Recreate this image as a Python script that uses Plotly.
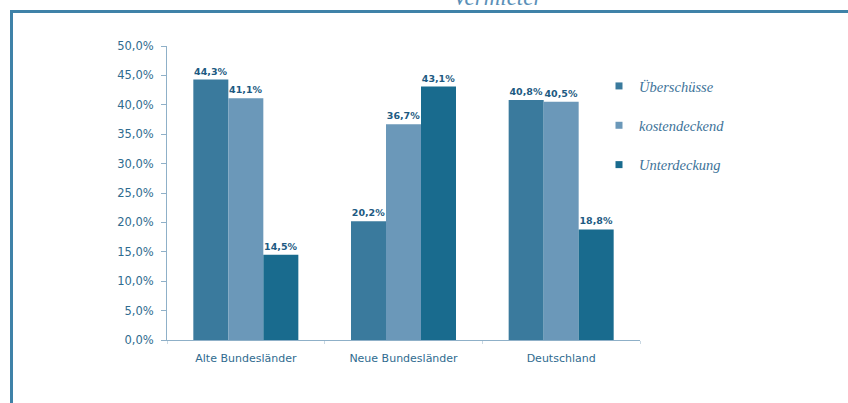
import plotly.graph_objects as go

categories = ["Alte Bundesländer", "Neue Bundesländer", "Deutschland"]
series_names = ["Überschüsse", "kostendeckend", "Unterdeckung"]
ueberschuesse = [44.3, 20.2, 40.8]
kostendeckend = [41.1, 36.7, 40.5]
unterdeckung = [14.5, 43.1, 18.8]
series_values = [ueberschuesse, kostendeckend, unterdeckung]
colors = ["#3a7a9d", "#6b98b9", "#196b8e"]
y_ticks = [0, 5, 10, 15, 20, 25, 30, 35, 40, 45, 50]
y_ticktext = [f"{v:.1f}%".replace(".", ",") for v in y_ticks]
title_text = "Vermieter"

W, H = 848, 403
L, R, T, B = 167, 640, 46, 340  # plot area pixel box

def px(x):
    return (x - L) / (R - L)

def py(y):
    return (B - y) / (B - T)

fig = go.Figure()
for name, vals, col in zip(series_names, series_values, colors):
    fig.add_trace(go.Bar(
        x=categories, y=vals, name=name, showlegend=False,
        marker=dict(color=col, line=dict(width=0)),
        texttemplate="%{y:.1f}%", textposition="outside",
        textfont=dict(family="DejaVu Sans", size=9.5, color="#1d5a82", weight="bold"),
        cliponaxis=False,
    ))
# legend entries with small square markers
for i, (name, col) in enumerate(zip(series_names, colors)):
    fig.add_trace(go.Scatter(
        x=[None], y=[None], mode="markers", name=name,
        marker=dict(symbol="square", size=7, color=col),
        legendgroup=f"g{i}",
    ))

fig.update_layout(
    width=W, height=H,
    margin=dict(l=L, r=W - R, t=T, b=H - B, pad=0),
    paper_bgcolor="white", plot_bgcolor="white",
    separators=",.",
    barmode="group", bargap=0.334, bargroupgap=0,
    showlegend=True,
    legend=dict(
        x=px(599), y=py(70), xanchor="left", yanchor="top",
        traceorder="grouped", tracegroupgap=17.5,
        font=dict(family="Liberation Serif", size=14.5, color="#3d7399", style="italic"),
        bgcolor="rgba(0,0,0,0)", itemwidth=30,
    ),
    xaxis=dict(
        showline=True, linecolor="#8fb0c8", linewidth=1,
        ticks="outside", tickson="boundaries", ticklen=3, tickcolor="#c9d8e3",
        ticklabelstandoff=8,
        tickfont=dict(family="DejaVu Sans", size=11, color="#2f6b8f"),
        showgrid=False, zeroline=False,
    ),
    yaxis=dict(
        range=[0, 50], tickmode="array", tickvals=y_ticks, ticktext=y_ticktext,
        showline=True, linecolor="#8fb0c8", linewidth=1,
        ticks="outside", ticklen=5, tickcolor="#8fb0c8",
        ticklabelstandoff=5,
        tickfont=dict(family="DejaVu Sans", size=11.5, color="#2f6b8f"),
        showgrid=False, zeroline=False,
    ),
    shapes=[dict(
        type="rect", xref="paper", yref="paper",
        x0=px(11.5), x1=px(870), y0=py(430), y1=py(11.5),
        line=dict(color="#3f82a8", width=3), fillcolor="rgba(0,0,0,0)", layer="below",
    )],
    annotations=[dict(
        text=title_text, xref="paper", yref="paper",
        x=px(498), y=py(12), xanchor="center", yanchor="bottom", showarrow=False,
        font=dict(family="Liberation Serif", size=23, color="#5a90b8", style="italic"),
    )],
)

fig.write_html(
    "out.html",
    config={"displayModeBar": False},
    post_script="document.body.style.margin='0';document.body.style.padding='0';",
)
